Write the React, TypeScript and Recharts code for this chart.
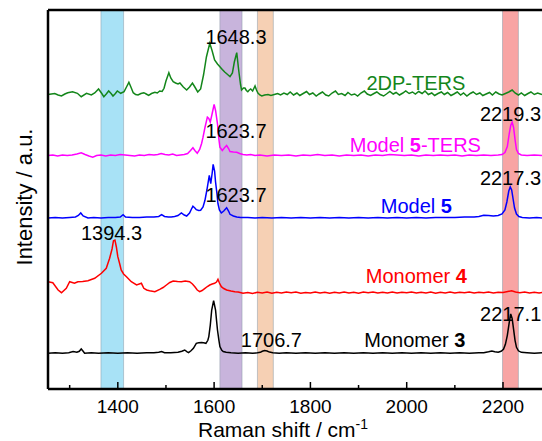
import React from 'react'
import { LineChart, Line, XAxis, YAxis, ReferenceArea, ReferenceLine, ReferenceDot } from 'recharts'

// Raman shift (cm-1) / intensity (a.u., above each trace's baseline)
const ters2DP = [
  [1255, 0.5], [1262, 1], [1269, 1.5], [1276, 0], [1283, -1], [1290, 1], [1296, 2.3], [1306, 3.3], [1316, 1.7],
  [1324, -1.7], [1335, 1.7], [1345, 0], [1352, 2], [1360, 6], [1366, 2], [1371, -1.7], [1376, 1], [1381, 4],
  [1386, 1.5], [1390, -1], [1395, 1.5], [1399, 4], [1406, 1.7], [1413, 3.3], [1418, 8], [1423, 12.7], [1428, 7],
  [1432, 2.3], [1437, 0.5], [1442, 0], [1448, 1.5], [1454, 2.3], [1459, 1], [1464, -0.3], [1470, 1.5], [1477, 2.7],
  [1482, 2], [1487, 4], [1492, 3.5], [1496, 6.7], [1500, 14], [1506, 22.3], [1510, 17], [1515, 13.3], [1520, 12],
  [1525, 11], [1529, 12], [1536, 8], [1543, 5], [1549, 8], [1555, 12], [1560, 8], [1566, 3], [1572, 6], [1578, 20],
  [1584, 38], [1591, 51.7], [1596, 44], [1601, 35], [1607, 31], [1612, 28.3], [1617, 25.5], [1622, 23], [1628, 20.5],
  [1633, 18.3], [1638, 22], [1642, 33], [1647, 42.3], [1651, 25], [1655, 10], [1657, 5], [1661, 7], [1664, 7],
  [1667, 4.5], [1670, 3.3], [1673, 5], [1676, 6], [1680, 4], [1685, 9], [1688, 5], [1691, 2], [1695, 0], [1699, -1],
  [1705, 0], [1712, 0.5], [1718, -0.5], [1725, 0.5], [1732, 1.5], [1738, 0], [1745, 2], [1752, 0.5], [1758, 3],
  [1765, 0], [1772, 2], [1778, -0.5], [1785, 1.5], [1792, 3.5], [1798, 0.5], [1805, 2], [1812, -1], [1818, 1],
  [1825, 3], [1832, 0], [1838, -1], [1845, 2], [1852, 4], [1858, 0.5], [1865, 1.5], [1872, -0.5], [1878, 2.5],
  [1885, 0], [1892, 1], [1898, -1], [1905, 2], [1912, 4], [1918, 1], [1925, -0.5], [1932, 1.5], [1938, 3],
  [1945, 0.5], [1952, -1], [1958, 1], [1965, 3.5], [1972, 1], [1978, 2.5], [1985, 0], [1992, 2], [1998, 4],
  [2005, 1.5], [2012, 3], [2018, 1], [2025, 3.5], [2032, 1.5], [2038, 4], [2045, 0.5], [2052, 2], [2058, -0.5],
  [2065, 1.5], [2072, 3], [2078, 0.5], [2085, 2.5], [2092, -0.5], [2098, 1], [2105, 3], [2112, 0], [2118, 2],
  [2125, -1], [2132, 1.5], [2138, 3], [2145, 0.5], [2152, 2], [2158, -0.5], [2165, 1], [2172, 2.5], [2178, 0],
  [2185, 3], [2192, 1], [2198, 0], [2205, 1.5], [2212, 3], [2219, 5], [2225, 2], [2232, 0], [2238, 2], [2245, -0.5],
  [2252, 1.5], [2258, 3], [2265, 0.5], [2272, 2], [2281, 0.5],
]

const model5Ters = [
  [1255, 0], [1265, 0.5], [1275, -0.5], [1285, 0.5], [1295, 0], [1305, 0.5], [1315, 1.5], [1324, 2.7], [1332, 1],
  [1340, -0.5], [1348, -1.7], [1356, 0], [1365, 0.5], [1375, -0.5], [1385, 0.5], [1395, 0], [1405, 1], [1415, 0.5],
  [1425, 0], [1435, -0.5], [1445, 0.5], [1455, 0], [1465, 1], [1475, 0.5], [1483, 1], [1490, 2], [1498, 1],
  [1506, 0.5], [1514, 1.5], [1522, 0], [1530, 0.5], [1538, 1], [1545, 2], [1551, 5], [1556, 7.7], [1560, 5],
  [1565, 2.3], [1570, 6], [1574, 12], [1577, 18.3], [1581, 28], [1586, 38.3], [1589, 37], [1592, 33.3], [1596, 42],
  [1600, 51], [1603, 45], [1607, 31.7], [1610, 16], [1612, 8.3], [1617, 5], [1622, 8], [1626, 10], [1630, 7],
  [1633, 4], [1640, 3.5], [1647, 3.3], [1653, 2], [1660, 1], [1668, 0.5], [1676, 1], [1685, 0], [1695, 0.5],
  [1710, -0.5], [1725, 0.5], [1740, 0], [1755, 0.5], [1770, -0.5], [1785, 0.5], [1800, 0], [1815, 1], [1830, 0],
  [1845, 0.5], [1860, -0.5], [1875, 0.5], [1890, 0], [1905, 0.5], [1920, -0.5], [1935, 0.5], [1950, 0], [1965, 1],
  [1980, 0.5], [1995, 0], [2010, 0.5], [2025, -0.5], [2040, 0.5], [2055, 0], [2070, 0.5], [2085, 0], [2100, 0.5],
  [2115, -0.5], [2130, 0.5], [2145, 0], [2160, 0.5], [2175, 0], [2190, 0.5], [2198, 1], [2204, 3], [2209, 9],
  [2213, 22], [2216, 30], [2219, 33.3], [2222, 28], [2225, 16], [2228, 6], [2232, 2], [2238, 0.5], [2250, 0],
  [2265, 0.5], [2281, 0],
]

const model5 = [
  [1255, 0], [1270, 0.5], [1285, 0], [1300, 0.5], [1312, 1], [1318, 2.5], [1323, 5], [1328, 2], [1338, 0],
  [1350, 0.5], [1365, 0], [1380, 0.5], [1395, 0.5], [1405, 1], [1411, 3.3], [1416, 1], [1430, 0.5], [1445, 0.5],
  [1460, 1], [1475, 1], [1485, 1.5], [1491, 3.3], [1497, 1.5], [1505, 1], [1511, 1], [1518, 1.5], [1525, 2.5],
  [1532, 5], [1538, 3], [1543, 2], [1549, 5], [1553, 9], [1556, 11.7], [1560, 10], [1563, 8.3], [1568, 7.5],
  [1572, 7.7], [1577, 11], [1581, 17.7], [1585, 28], [1590, 42.7], [1593, 34.3], [1596, 45], [1598, 53.7],
  [1601, 47], [1603, 36], [1606, 24], [1608, 14.3], [1611, 8], [1615, 5], [1620, 7], [1626, 10.3], [1630, 7],
  [1633, 3.7], [1640, 2], [1647, 1], [1655, 0.5], [1670, 0.5], [1685, 0], [1700, 0.5], [1720, 0], [1740, 0.5],
  [1760, 0], [1780, 0.5], [1800, 0], [1820, 0.5], [1840, 0], [1860, 0.5], [1880, 0], [1900, 0.5], [1920, 0],
  [1940, 0.5], [1960, 0], [1980, 0.5], [2000, 0], [2020, 0.5], [2040, 0], [2060, 0.5], [2080, 0.5], [2100, 0.5],
  [2120, 1], [2140, 1], [2150, 1.5], [2160, 2.7], [2170, 2.5], [2180, 2], [2190, 2.5], [2198, 4], [2204, 8],
  [2208, 16], [2212, 27], [2215, 31], [2218, 28], [2221, 19], [2224, 10], [2228, 4], [2233, 1.5], [2240, 0.5],
  [2255, 0], [2270, 0.5], [2281, 0],
]

const monomer4 = [
  [1255, 11.3], [1265, 10.3], [1276, 3], [1283, 0.3], [1293, 4.7], [1300, 11.3], [1310, 9.7], [1317, 11.3],
  [1327, 11.5], [1338, 12.3], [1352, 14.7], [1366, 19.7], [1376, 24.7], [1383, 34.7], [1388, 44], [1391, 52.3],
  [1394, 53], [1397, 46], [1400, 36.3], [1404, 29], [1407, 23], [1412, 19], [1418, 16.3], [1428, 11.3], [1439, 8],
  [1449, 9.7], [1454, 4.7], [1460, 3], [1466, 2.3], [1477, 1.3], [1487, 3.7], [1494, 5.5], [1501, 8], [1508, 10.5],
  [1515, 12], [1524, 11.5], [1532, 11.3], [1540, 12], [1549, 11.3], [1555, 9], [1560, 6.3], [1565, 3], [1570, 1.3],
  [1575, 2.5], [1581, 4.7], [1586, 6.5], [1591, 8], [1596, 9], [1601, 9.7], [1605, 11], [1608, 13.7], [1611, 10],
  [1615, 6.3], [1620, 4.5], [1626, 3], [1635, 2], [1643, 1.3], [1650, 1], [1660, -0.3], [1670, 0.5], [1680, -0.5],
  [1690, 0.8], [1700, 0], [1710, 1], [1720, -0.3], [1730, 0.7], [1740, 0], [1750, 1], [1760, 0.2], [1770, 0.9],
  [1780, -0.3], [1790, 0.6], [1800, 0.1], [1810, 1], [1820, 0], [1830, 0.8], [1840, -0.2], [1850, 0.7], [1860, 0.1],
  [1870, 1], [1880, 0], [1890, 0.7], [1900, -0.2], [1910, 0.9], [1920, 0.2], [1930, 1], [1940, 0], [1950, 0.8],
  [1960, 0.1], [1970, 1], [1980, -0.1], [1990, 0.7], [2000, 0.2], [2010, 1], [2020, 0], [2030, 0.8], [2040, 0.1],
  [2050, 0.9], [2060, -0.2], [2070, 0.7], [2080, 0.1], [2090, 1], [2100, 0], [2110, 0.8], [2120, 0.2], [2130, 0.9],
  [2140, -0.1], [2150, 0.7], [2160, 0.2], [2170, 0.9], [2180, 0], [2190, 0.8], [2200, 0.6], [2210, 1.5],
  [2218, 2.3], [2226, 1], [2235, 0.3], [2245, 0.9], [2255, 0], [2265, 0.8], [2275, 0.1], [2281, 0.6],
]

const monomer3 = [
  [1255, 0], [1270, 0.5], [1285, 0], [1298, 0.5], [1307, 1.7], [1315, 1], [1320, 2], [1324, 4.3], [1328, 2],
  [1331, 0], [1345, 0.5], [1360, 0], [1380, 0.5], [1400, 0], [1420, 0.5], [1440, 0], [1460, 0.5], [1475, 0.5],
  [1485, 1], [1491, 1.7], [1497, 0.5], [1510, 0.5], [1525, 1], [1533, 2], [1539, 3.3], [1544, 1.5], [1547, 0.7],
  [1552, 2.5], [1557, 5], [1563, 10], [1568, 10.5], [1574, 10.7], [1578, 10.5], [1583, 10], [1587, 13],
  [1589, 16.7], [1592, 28], [1595, 43.3], [1599, 52.7], [1603, 43.3], [1605, 33], [1607, 23.3], [1610, 13],
  [1612, 6.7], [1616, 3], [1619, 1.7], [1625, 1], [1635, 0.5], [1650, 0], [1665, 0.5], [1680, 0], [1690, 0.5],
  [1696, 1], [1700, 2], [1705, 2.7], [1710, 2.3], [1715, 1.2], [1722, 0.5], [1735, 0], [1750, 0.5], [1770, 0],
  [1790, 0.5], [1810, 0], [1830, 0.5], [1850, 0], [1870, 0.5], [1890, 0], [1910, 0.5], [1930, 0], [1950, 0.5],
  [1970, 0], [1990, 0.5], [2010, 0], [2030, 0.5], [2050, 0], [2070, 0.5], [2090, 0], [2110, 0.5], [2130, 0],
  [2150, 0.5], [2160, 0.5], [2170, 1.5], [2177, 2.3], [2183, 1.5], [2190, 1], [2196, 2], [2201, 4], [2205, 9],
  [2209, 18], [2213, 31], [2216, 39.3], [2219, 35], [2222, 24], [2225, 13], [2228, 6], [2232, 2.5], [2238, 1],
  [2250, 0.5], [2265, 0], [2281, 0.5],
]

// highlighted bands (cm-1)
const bands = [
  { from: 1365, to: 1412, fill: '#6ecff0' },
  { from: 1612, to: 1658, fill: '#a382c5' },
  { from: 1690, to: 1723, fill: '#f0b182' },
  { from: 2199, to: 2232, fill: '#f36767' },
]

const majorTicks = [1400, 1600, 1800, 2000, 2200]
const allTicks = [1300, 1400, 1500, 1600, 1700, 1800, 1900, 2000, 2100, 2200]

const FONT = '"Liberation Sans", Arial, sans-serif'

const series = [
  { name: '2DP-TERS', points: ters2DP, offset: 294, color: '#13861a' },
  { name: 'Model 5-TERS', points: model5Ters, offset: 233.5, color: '#ff00ff' },
  { name: 'Model 5', points: model5, offset: 171, color: '#0000ff' },
  { name: 'Monomer 4', points: monomer4, offset: 96, color: '#ff0000' },
  { name: 'Monomer 3', points: monomer3, offset: 35.7, color: '#000000' },
]

// text annotations, placed in data coordinates
const notes = [
  { x: 1645.4, y: 352, parts: [['1648.3']], color: '#000' },
  { x: 2019, y: 306, parts: [['2DP-TERS']], color: '#13861a' },
  { x: 1645.4, y: 258, parts: [['1623.7']], color: '#000' },
  { x: 2215.5, y: 275, parts: [['2219.3']], color: '#000' },
  { x: 2018, y: 244, parts: [['Model '], ['5', true], ['-TERS']], color: '#ff00ff' },
  { x: 2215.5, y: 211.5, parts: [['2217.3']], color: '#000' },
  { x: 1645.4, y: 194, parts: [['1623.7']], color: '#000' },
  { x: 2020, y: 183, parts: [['Model '], ['5', true]], color: '#0000ff' },
  { x: 1387, y: 156, parts: [['1394.3']], color: '#000' },
  { x: 2020, y: 113, parts: [['Monomer '], ['4', true]], color: '#ff0000' },
  { x: 2216, y: 75.3, parts: [['2217.1']], color: '#000' },
  { x: 1719, y: 49, parts: [['1706.7']], color: '#000' },
  { x: 2017, y: 49, parts: [['Monomer '], ['3', true]], color: '#000' },
]

function Note(props: any) {
  const vb = props.viewBox || { x: 0, y: 0, width: 0, height: 0 }
  const cx = vb.x + (vb.width || 0) / 2
  const cy = vb.y + (vb.height || 0) / 2
  return (
    <text x={cx} y={cy} textAnchor="middle" dominantBaseline="central" fill={props.color} fontSize={20} fontFamily={FONT}>
      {props.parts.map((p: any, i: number) => (
        <tspan key={i} fontWeight={p[1] ? 'bold' : 'normal'}>{p[0]}</tspan>
      ))}
    </text>
  )
}

// ticks point into the plot
function XTick(props: any) {
  const { x, y, payload } = props
  const major = majorTicks.includes(payload.value)
  return (
    <g>
      <line x1={x} x2={x} y1={y} y2={y - (major ? 7 : 4)} stroke="#000" strokeWidth={1.5} />
      {major && (
        <text x={x} y={y + 24} textAnchor="middle" fontSize={19} fontFamily={FONT} fill="#000">
          {payload.value}
        </text>
      )}
    </g>
  )
}

export default function App() {
  return (
    <div style={{ position: 'absolute', left: 0, top: 0, width: 542, height: 441, background: '#fff' }}>
      <LineChart width={542} height={441} margin={{ top: 10, right: 0, left: 0, bottom: 0 }}>
        {bands.map((b) => (
          <ReferenceArea
            key={b.from}
            x1={b.from}
            x2={b.to}
            fill={b.fill}
            fillOpacity={0.6}
            stroke="#8a9aa8"
            strokeOpacity={0.5}
            strokeWidth={1}
          />
        ))}
        <XAxis
          type="number"
          dataKey="x"
          domain={[1255, 2281]}
          allowDataOverflow
          ticks={allTicks}
          interval={0}
          height={52}
          tickSize={0}
          tickMargin={0}
          tickLine={false}
          axisLine={{ stroke: '#000', strokeWidth: 2.5 }}
          tick={<XTick />}
          label={{
            content: () => (
              <text x={283} y={437} textAnchor="middle" fontSize={21} fontFamily={FONT} fill="#000">
                Raman shift / cm<tspan dy={-8} fontSize={14}>-1</tspan>
              </text>
            ),
          }}
        />
        <YAxis
          type="number"
          domain={[0, 379]}
          allowDataOverflow
          width={48}
          tick={false}
          tickLine={false}
          axisLine={{ stroke: '#000', strokeWidth: 2.5 }}
          label={{
            content: () => (
              <text x={24} y={197} transform="rotate(-90 24 197)" textAnchor="middle" dominantBaseline="central" fontSize={22} fontFamily={FONT} fill="#000">
                Intensity / a.u.
              </text>
            ),
          }}
        />
        <ReferenceLine y={379} stroke="#000" strokeWidth={2.5} />
        {series.map((s) => (
          <Line
            key={s.name}
            data={s.points.map(([x, v]) => ({ x, y: v + s.offset }))}
            dataKey="y"
            type="linear"
            stroke={s.color}
            strokeWidth={1.5}
            dot={false}
            isAnimationActive={false}
          />
        ))}
        {notes.map((n, i) => (
          <ReferenceDot
            key={i}
            x={n.x}
            y={n.y}
            r={0}
            fill="none"
            stroke="none"
            ifOverflow="visible"
            label={<Note parts={n.parts} color={n.color} />}
          />
        ))}
      </LineChart>
    </div>
  )
}
